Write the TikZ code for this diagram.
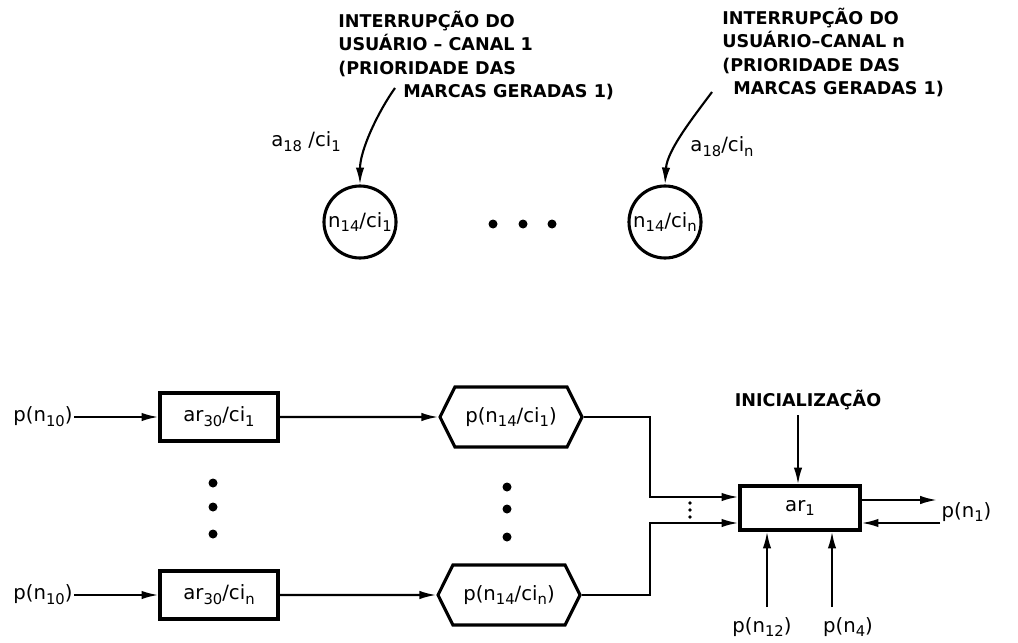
\documentclass[tikz,border=0pt]{standalone}
\usepackage{fontspec}
\setmainfont{DejaVu Sans}
\usetikzlibrary{arrows.meta,shapes.symbols}
\newcommand{\sbx}[1]{\raisebox{-0.45ex}{\fontsize{10.5}{10.5}\selectfont #1}}
\tikzset{
  caixa/.style={draw, line width=2.2pt, minimum width=2.95cm, minimum height=1.2cm, inner sep=0pt, font=\fontsize{14}{16}\selectfont},
  sinal/.style={signal, signal to=west and east, signal pointer angle=127, draw, line width=2.2pt,
    minimum width=3.55cm, minimum height=1.5cm, inner sep=0pt, font=\fontsize{14}{16}\selectfont},
  lugar/.style={circle, draw, line width=2.2pt, minimum size=1.8cm, inner sep=0pt, font=\fontsize{14}{16}\selectfont},
  rotulo/.style={font=\fontsize{12.5}{16.5}\selectfont\bfseries, align=left, inner sep=0pt},
  formula/.style={font=\fontsize{14}{16}\selectfont, inner sep=1pt},
  seta/.style={line width=1.5pt, -{Latex[length=12pt,width=6pt]}},
  linha/.style={line width=1.5pt}
}
\begin{document}
\begin{tikzpicture}[x=0.025cm, y=-0.025cm]
    \useasboundingbox (0,0) rectangle (1018,643);

    % Interrupcoes do usuario
    \node[rotulo, anchor=north west] (int1) at (338,11) {INTERRUPÇÃO DO\\USUÁRIO – CANAL 1\\(PRIORIDADE DAS\\\hspace*{1.625cm}MARCAS GERADAS 1)};
    \node[rotulo, anchor=north west] (intn) at (722,8) {INTERRUPÇÃO DO\\USUÁRIO–CANAL n\\(PRIORIDADE DAS\\\hspace*{0.275cm}MARCAS GERADAS 1)};

    % Lugares
    \node[lugar] (l1) at (360,222) {n\sbx{14}/ci\sbx{1}};
    \node[lugar] (ln) at (665,222) {n\sbx{14}/ci\sbx{n}};
    \foreach \x in {493,523,552}
        \fill (\x,224) circle (4.5);

    % Arcos das interrupcoes
    \coordinate (s1) at (395,88);
    \coordinate (sn) at (712,92);
    \draw[seta] (s1) .. controls (378,112) and (360,150) .. (l1.north);
    \draw[seta] (sn) .. controls (695,115) and (667,150) .. (ln.north);
    \node[formula] (a1) at (306,142) {a\sbx{18} /ci\sbx{1}};
    \node[formula] (an) at (722,147) {a\sbx{18}/ci\sbx{n}};

    % Canais
    \node[formula] (p1) at (43,417) {p(n\sbx{10})};
    \node[caixa] (b1) at (219,417) {ar\sbx{30}/ci\sbx{1}};
    \node[sinal] (h1) at (511,417) {p(n\sbx{14}/ci\sbx{1})};
    \node[formula] (pn) at (43,595) {p(n\sbx{10})};
    \node[caixa] (bn) at (219,595) {ar\sbx{30}/ci\sbx{n}};
    \node[sinal] (hn) at (509,595) {p(n\sbx{14}/ci\sbx{n})};
    \foreach \y in {483,507,534}
        \fill (213,\y) circle (4.5);
    \foreach \y in {487,509,537}
        \fill (507,\y) circle (4.5);

    \draw[seta] (p1) -- (b1);
    \draw[seta] (b1) -- (h1);
    \draw[seta] (pn) -- (bn);
    \draw[seta] (bn) -- (hn);

    % Arco ar1
    \node[caixa, minimum width=3cm, minimum height=1.1cm] (ar1) at (800,508) {ar\sbx{1}};
    \coordinate (k1) at (650,497);
    \coordinate (kn) at (650,523);
    \draw[seta] (h1.east) -| (k1) -- (ar1.west |- k1);
    \draw[seta] (hn.east) -| (kn) -- (ar1.west |- kn);
    \foreach \y in {503,510,517}
        \fill (690,\y) circle (1.8);

    \node[rotulo] (ini) at (808,400) {INICIALIZAÇÃO};
    \coordinate (u0) at (798,415);
    \draw[seta] (u0) -- (u0 |- ar1.north);

    \coordinate (o1) at (937,500);
    \coordinate (o2) at (940,523);
    \draw[seta] (ar1.east |- o1) -- (o1);
    \draw[seta] (o2) -- (ar1.east |- o2);
    \node[formula, anchor=west] (pn1) at (940,512) {p(n\sbx{1})};

    \node[formula] (pn12) at (762,627) {p(n\sbx{12})};
    \node[formula] (pn4) at (848,627) {p(n\sbx{4})};
    \coordinate (u12) at (767,607);
    \coordinate (u4) at (832,607);
    \draw[seta] (u12) -- (u12 |- ar1.south);
    \draw[seta] (u4) -- (u4 |- ar1.south);
\end{tikzpicture}
\end{document}
